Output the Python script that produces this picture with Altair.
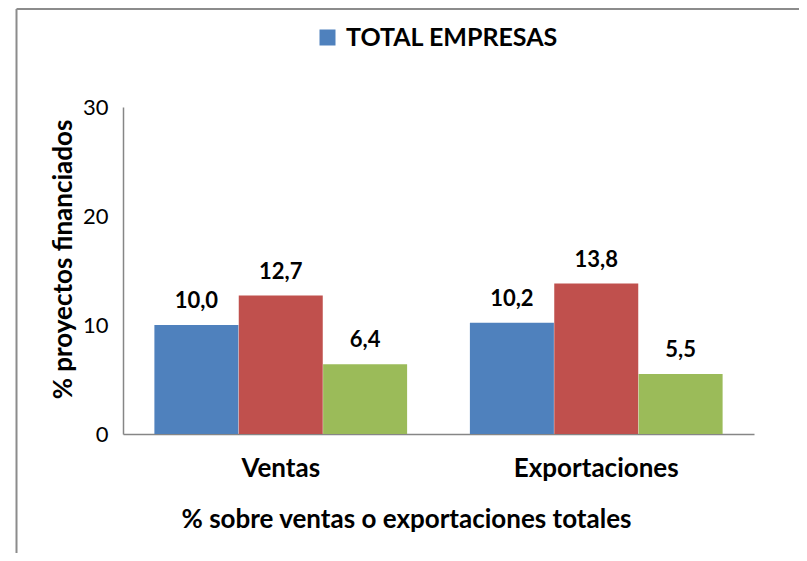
import altair as alt
import pandas as pd

categorias = ["Ventas", "Exportaciones"]
series = ["TOTAL EMPRESAS", "Serie 2", "Serie 3"]
valores_ventas = [10.0, 12.7, 6.4]
valores_export = [10.2, 13.8, 5.5]
colores = ["#4F81BD", "#C0504D", "#9BBB59"]
y_ticks = [0, 10, 20, 30]

rows = []
for cat, vals in zip(categorias, [valores_ventas, valores_export]):
    for s, v in zip(series, vals):
        rows.append({"categoria": cat, "serie": s, "valor": v,
                     "etiqueta": f"{v:.1f}".replace(".", ",")})
df = pd.DataFrame(rows)

FONT = "Lato"
AXIS_GRAY = "#868686"

x_enc = alt.X(
    "categoria:N", sort=categorias,
    scale=alt.Scale(paddingInner=0, paddingOuter=0),
    axis=alt.Axis(
        title="% sobre ventas o exportaciones totales", labelAngle=0, ticks=False,
        domainColor=AXIS_GRAY, domainWidth=1.5,
        labelFont=FONT, labelFontSize=26, labelFontWeight="bold", labelColor="black",
        labelPadding=21,
        titleFont=FONT, titleFontSize=26, titleFontWeight="bold", titleColor="black",
        titleX=283, titleY=85, titleBaseline="middle",
    ),
)
xoff = alt.XOffset("serie:N", sort=series,
                   scale=alt.Scale(paddingOuter=0.37, paddingInner=0))
y_enc = alt.Y(
    "valor:Q", scale=alt.Scale(domain=[0, 30]),
    axis=alt.Axis(
        values=y_ticks, grid=False, ticks=False,
        domainColor=AXIS_GRAY, domainWidth=1.5,
        labelFont=FONT, labelFontSize=22, labelColor="black", labelPadding=15,
        title="% proyectos financiados",
        titleFont=FONT, titleFontSize=26, titleFontWeight="bold", titleColor="black",
        titleX=-60, titleY=152, titleBaseline="middle", titleAngle=-90,
    ),
)
color_enc = alt.Color(
    "serie:N",
    scale=alt.Scale(domain=series, range=colores),
    legend=alt.Legend(
        values=["TOTAL EMPRESAS"], orient="none", legendX=192, legendY=-82,
        title=None, symbolType="square", symbolSize=256, symbolStrokeWidth=0,
        labelFont=FONT, labelFontSize=25, labelFontWeight="bold", labelColor="black",
        labelOffset=6, labelLimit=0,
    ),
)

base = alt.Chart(df)
bars = base.mark_bar(size=84).encode(x=x_enc, xOffset=xoff, y=y_enc, color=color_enc)
labels = base.mark_text(baseline="alphabetic", dy=-17, font=FONT, fontSize=22,
                        fontWeight="bold", color="black").encode(
    x=x_enc, xOffset=xoff, y=y_enc, text="etiqueta:N")

frame_data = alt.Data(values=[{"k": 1}])
frame_left = alt.Chart(frame_data).mark_rule(color="#8c8c8c", strokeWidth=2).encode(
    x=alt.value(-106.5), y=alt.value(-98), y2=alt.value(480))
frame_top = alt.Chart(frame_data).mark_rule(color="#8c8c8c", strokeWidth=2).encode(
    x=alt.value(-106.5), x2=alt.value(720), y=alt.value(-98))

chart = alt.layer(bars, labels, frame_left, frame_top).properties(
    width=631, height=327,
    autosize=alt.AutoSizeParams(type="none"),
    padding={"left": 115, "top": 99, "right": 45, "bottom": 119},
    background="white",
).configure_view(stroke="transparent")

chart.save("out.html", embed_options={"renderer": "svg", "actions": False})
